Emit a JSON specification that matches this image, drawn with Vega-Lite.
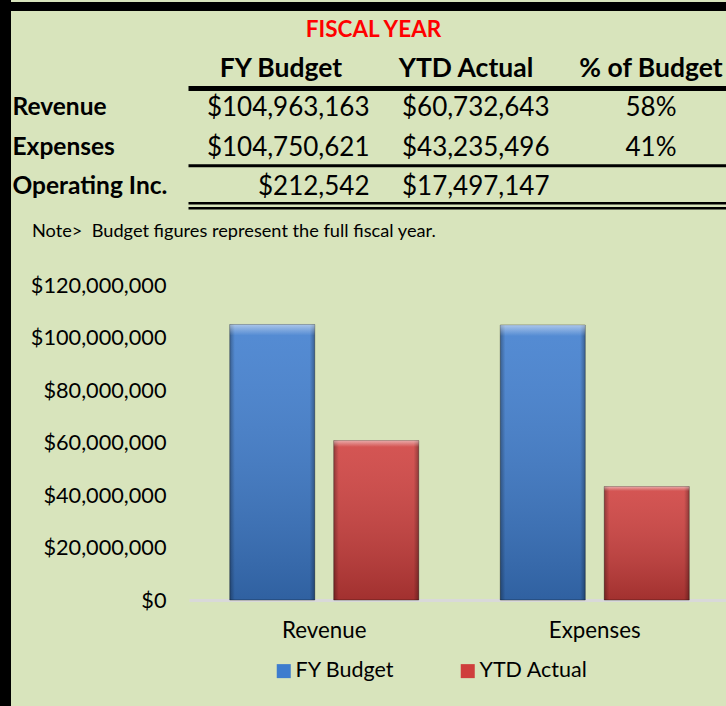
{
  "$schema": "https://vega.github.io/schema/vega-lite/v6.json",
  "width": 726,
  "height": 706,
  "autosize": "none",
  "padding": 0,
  "background": "#d8e4bc",
  "config": {
    "view": {"stroke": null},
    "font": "Lato",
    "text": {"font": "Lato", "color": "#000000"},
    "axis": {"labelFont": "Lato"},
    "legend": {"labelFont": "Lato"}
  },
  "datasets": {
    "finance": [
      {"item": "Revenue", "FY Budget": 104963163, "YTD Actual": 60732643, "pct": 0.58},
      {"item": "Expenses", "FY Budget": 104750621, "YTD Actual": 43235496, "pct": 0.41},
      {"item": "Operating Inc.", "FY Budget": 212542, "YTD Actual": 17497147, "pct": null}
    ],
    "headers": [{"col": "FY Budget"}, {"col": "YTD Actual"}, {"col": "% of Budget"}],
    "captions": [{"title": "FISCAL YEAR", "note": "Note>\u00a0 Budget figures represent the full fiscal year."}]
  },
  "layer": [
    {
      "layer": [
        {
          "data": {"name": "captions"},
          "mark": {"type": "text", "fontSize": 22.5, "fontWeight": "bold", "color": "#ff0000", "align": "center", "baseline": "middle", "dy": 4},
          "encoding": {
            "x": {"datum": "YTD Actual", "type": "nominal", "bandPosition": 0, "axis": null, "scale": {"type": "band", "domain": ["label", "FY Budget", "YTD Actual", "% of Budget"], "range": [3.5, 743.5], "paddingInner": 0, "paddingOuter": 0}},
            "y": {"datum": "title", "type": "nominal", "axis": null, "scale": {"type": "band", "domain": ["title", "header", "Revenue", "Expenses", "Operating Inc."], "range": [6.5, 204.25], "paddingInner": 0, "paddingOuter": 0}},
            "text": {"field": "title"}
          }
        },
        {
          "data": {"name": "headers"},
          "mark": {"type": "text", "fontSize": 26.5, "fontWeight": "bold", "align": "center", "baseline": "middle", "dy": 3},
          "encoding": {
            "x": {"field": "col", "type": "nominal", "axis": null, "scale": {"type": "band", "domain": ["label", "FY Budget", "YTD Actual", "% of Budget"], "range": [3.5, 743.5], "paddingInner": 0, "paddingOuter": 0}},
            "y": {"datum": "header", "type": "nominal", "axis": null, "scale": {"type": "band", "domain": ["title", "header", "Revenue", "Expenses", "Operating Inc."], "range": [6.5, 204.25], "paddingInner": 0, "paddingOuter": 0}},
            "text": {"field": "col"}
          }
        },
        {
          "data": {"name": "finance"},
          "mark": {"type": "text", "fontSize": 24.5, "fontWeight": "bold", "align": "left", "baseline": "middle", "dx": 9, "dy": 3},
          "encoding": {
            "x": {"datum": "label", "type": "nominal", "bandPosition": 0, "axis": null, "scale": {"type": "band", "domain": ["label", "FY Budget", "YTD Actual", "% of Budget"], "range": [3.5, 743.5], "paddingInner": 0, "paddingOuter": 0}},
            "y": {"field": "item", "type": "nominal", "axis": null, "scale": {"type": "band", "domain": ["title", "header", "Revenue", "Expenses", "Operating Inc."], "range": [6.5, 204.25], "paddingInner": 0, "paddingOuter": 0}},
            "text": {"field": "item"}
          }
        },
        {
          "data": {"name": "finance"},
          "mark": {"type": "text", "fontSize": 26, "align": "right", "baseline": "middle", "dx": -4, "dy": 3},
          "encoding": {
            "x": {"datum": "FY Budget", "type": "nominal", "bandPosition": 1, "axis": null, "scale": {"type": "band", "domain": ["label", "FY Budget", "YTD Actual", "% of Budget"], "range": [3.5, 743.5], "paddingInner": 0, "paddingOuter": 0}},
            "y": {"field": "item", "type": "nominal", "axis": null, "scale": {"type": "band", "domain": ["title", "header", "Revenue", "Expenses", "Operating Inc."], "range": [6.5, 204.25], "paddingInner": 0, "paddingOuter": 0}},
            "text": {"field": "FY Budget", "type": "quantitative", "format": "$,.0f"}
          }
        },
        {
          "data": {"name": "finance"},
          "mark": {"type": "text", "fontSize": 26, "align": "right", "baseline": "middle", "dx": -9, "dy": 3},
          "encoding": {
            "x": {"datum": "YTD Actual", "type": "nominal", "bandPosition": 1, "axis": null, "scale": {"type": "band", "domain": ["label", "FY Budget", "YTD Actual", "% of Budget"], "range": [3.5, 743.5], "paddingInner": 0, "paddingOuter": 0}},
            "y": {"field": "item", "type": "nominal", "axis": null, "scale": {"type": "band", "domain": ["title", "header", "Revenue", "Expenses", "Operating Inc."], "range": [6.5, 204.25], "paddingInner": 0, "paddingOuter": 0}},
            "text": {"field": "YTD Actual", "type": "quantitative", "format": "$,.0f"}
          }
        },
        {
          "data": {"name": "finance"},
          "transform": [{"filter": "isValid(datum.pct)"}],
          "mark": {"type": "text", "fontSize": 26, "align": "center", "baseline": "middle", "dy": 3},
          "encoding": {
            "x": {"datum": "% of Budget", "type": "nominal", "axis": null, "scale": {"type": "band", "domain": ["label", "FY Budget", "YTD Actual", "% of Budget"], "range": [3.5, 743.5], "paddingInner": 0, "paddingOuter": 0}},
            "y": {"field": "item", "type": "nominal", "axis": null, "scale": {"type": "band", "domain": ["title", "header", "Revenue", "Expenses", "Operating Inc."], "range": [6.5, 204.25], "paddingInner": 0, "paddingOuter": 0}},
            "text": {"field": "pct", "type": "quantitative", "format": ".0%"}
          }
        },
        {
          "data": {"name": "captions"},
          "mark": {"type": "text", "fontSize": 18.2, "align": "left", "baseline": "middle", "dx": 28.5, "dy": 28},
          "encoding": {
            "x": {"datum": "label", "type": "nominal", "bandPosition": 0, "axis": null, "scale": {"type": "band", "domain": ["label", "FY Budget", "YTD Actual", "% of Budget"], "range": [3.5, 743.5], "paddingInner": 0, "paddingOuter": 0}},
            "y": {"datum": "Operating Inc.", "type": "nominal", "bandPosition": 1, "axis": null, "scale": {"type": "band", "domain": ["title", "header", "Revenue", "Expenses", "Operating Inc."], "range": [6.5, 204.25], "paddingInner": 0, "paddingOuter": 0}},
            "text": {"field": "note"}
          }
        },
        {
          "data": {"name": "headers"},
          "transform": [{"filter": "datum.col == 'FY Budget'"}],
          "mark": {"type": "rule", "color": "#000000", "strokeWidth": 5, "yOffset": 3},
          "encoding": {
            "x": {"datum": "FY Budget", "type": "nominal", "bandPosition": 0, "axis": null, "scale": {"type": "band", "domain": ["label", "FY Budget", "YTD Actual", "% of Budget"], "range": [3.5, 743.5], "paddingInner": 0, "paddingOuter": 0}},
            "x2": {"datum": "% of Budget", "bandPosition": 1},
            "y": {"datum": "header", "type": "nominal", "bandPosition": 1, "axis": null, "scale": {"type": "band", "domain": ["title", "header", "Revenue", "Expenses", "Operating Inc."], "range": [6.5, 204.25], "paddingInner": 0, "paddingOuter": 0}}
          }
        },
        {
          "data": {"name": "headers"},
          "transform": [{"filter": "datum.col == 'FY Budget'"}],
          "mark": {"type": "rule", "color": "#000000", "strokeWidth": 3, "yOffset": 1},
          "encoding": {
            "x": {"datum": "FY Budget", "type": "nominal", "bandPosition": 0, "axis": null, "scale": {"type": "band", "domain": ["label", "FY Budget", "YTD Actual", "% of Budget"], "range": [3.5, 743.5], "paddingInner": 0, "paddingOuter": 0}},
            "x2": {"datum": "% of Budget", "bandPosition": 1},
            "y": {"datum": "Expenses", "type": "nominal", "bandPosition": 1, "axis": null, "scale": {"type": "band", "domain": ["title", "header", "Revenue", "Expenses", "Operating Inc."], "range": [6.5, 204.25], "paddingInner": 0, "paddingOuter": 0}}
          }
        },
        {
          "data": {"name": "headers"},
          "transform": [{"filter": "datum.col == 'FY Budget'"}],
          "mark": {"type": "rule", "color": "#000000", "strokeWidth": 2.5, "yOffset": -1},
          "encoding": {
            "x": {"datum": "FY Budget", "type": "nominal", "bandPosition": 0, "axis": null, "scale": {"type": "band", "domain": ["label", "FY Budget", "YTD Actual", "% of Budget"], "range": [3.5, 743.5], "paddingInner": 0, "paddingOuter": 0}},
            "x2": {"datum": "% of Budget", "bandPosition": 1},
            "y": {"datum": "Operating Inc.", "type": "nominal", "bandPosition": 1, "axis": null, "scale": {"type": "band", "domain": ["title", "header", "Revenue", "Expenses", "Operating Inc."], "range": [6.5, 204.25], "paddingInner": 0, "paddingOuter": 0}}
          }
        },
        {
          "data": {"name": "headers"},
          "transform": [{"filter": "datum.col == 'FY Budget'"}],
          "mark": {"type": "rule", "color": "#000000", "strokeWidth": 2.5, "yOffset": 4},
          "encoding": {
            "x": {"datum": "FY Budget", "type": "nominal", "bandPosition": 0, "axis": null, "scale": {"type": "band", "domain": ["label", "FY Budget", "YTD Actual", "% of Budget"], "range": [3.5, 743.5], "paddingInner": 0, "paddingOuter": 0}},
            "x2": {"datum": "% of Budget", "bandPosition": 1},
            "y": {"datum": "Operating Inc.", "type": "nominal", "bandPosition": 1, "axis": null, "scale": {"type": "band", "domain": ["title", "header", "Revenue", "Expenses", "Operating Inc."], "range": [6.5, 204.25], "paddingInner": 0, "paddingOuter": 0}}
          }
        },
        {
          "data": {"name": "headers"},
          "transform": [{"filter": "datum.col == 'FY Budget'"}],
          "mark": {"type": "rule", "color": "#000000", "strokeWidth": 15},
          "encoding": {
            "x": {"datum": "label", "type": "nominal", "bandPosition": 0, "axis": null, "scale": {"type": "band", "domain": ["label", "FY Budget", "YTD Actual", "% of Budget"], "range": [3.5, 743.5], "paddingInner": 0, "paddingOuter": 0}}
          }
        },
        {
          "data": {"name": "headers"},
          "transform": [{"filter": "datum.col == 'FY Budget'"}],
          "mark": {"type": "rule", "color": "#000000", "strokeWidth": 9},
          "encoding": {
            "y": {"datum": "title", "type": "nominal", "bandPosition": 0, "axis": null, "scale": {"type": "band", "domain": ["title", "header", "Revenue", "Expenses", "Operating Inc."], "range": [6.5, 204.25], "paddingInner": 0, "paddingOuter": 0}}
          }
        }
      ]
    },
    {
      "data": {"name": "finance"},
      "transform": [
        {"filter": "datum.item != 'Operating Inc.'"},
        {"fold": ["FY Budget", "YTD Actual"], "as": ["series", "amount"]}
      ],
      "encoding": {
        "x": {
          "field": "item", "type": "nominal",
          "scale": {"type": "band", "domain": ["Revenue", "Expenses"], "range": [189, 730], "paddingInner": 0, "paddingOuter": 0},
          "axis": {"title": null, "orient": "bottom", "offset": -106, "domainColor": "#d9d9d9", "domainWidth": 3, "ticks": false, "tickSize": 0, "labelFontSize": 22.3, "labelPadding": 19, "labelColor": "#000000", "labelAngle": 0}
        },
        "xOffset": {
          "field": "series", "type": "nominal",
          "scale": {"domain": ["FY Budget", "YTD Actual"], "paddingInner": 0.1827, "paddingOuter": 0.392}
        },
        "y": {
          "field": "amount", "type": "quantitative",
          "scale": {"domain": [0, 120000000], "range": [600, 285], "nice": false},
          "axis": {"title": null, "values": [0, 20000000, 40000000, 60000000, 80000000, 100000000, 120000000], "format": "$,.0f", "grid": false, "domain": false, "ticks": false, "tickSize": 0, "offset": -166, "labelPadding": 0, "labelFontSize": 21.7, "labelColor": "#000000"}
        }
      },
      "layer": [
        {
          "mark": {"type": "bar", "stroke": "#000000", "strokeOpacity": 0.35, "strokeWidth": 1},
          "encoding": {
            "color": {
              "field": "series", "type": "nominal",
              "scale": {"domain": ["FY Budget", "YTD Actual"], "range": ["#3d7cce", "#cf3e3c"]},
              "legend": {"orient": "none", "legendX": 273, "legendY": 660, "direction": "horizontal", "title": null, "symbolType": "square", "symbolSize": 196, "symbolStrokeWidth": 0, "symbolOpacity": 1, "labelFontSize": 21.5, "labelColor": "#000000", "labelOffset": 1, "columnPadding": 62, "padding": 0}
            }
          }
        },
        {
          "mark": {"type": "bar", "fill": {"gradient": "linear", "x1": 0, "y1": 0, "x2": 0, "y2": 1, "stops": [{"offset": 0, "color": "rgba(255,255,255,0.12)"}, {"offset": 1, "color": "rgba(0,0,0,0.22)"}]}}
        },
        {
          "mark": {"type": "bar", "fill": {"gradient": "linear", "x1": 0, "y1": 0, "x2": 1, "y2": 0, "stops": [{"offset": 0, "color": "rgba(0,0,0,0.3)"}, {"offset": 0.06, "color": "rgba(0,0,0,0)"}, {"offset": 0.94, "color": "rgba(0,0,0,0)"}, {"offset": 1, "color": "rgba(0,0,0,0.3)"}]}}
        },
        {
          "mark": {"type": "bar", "fill": {"gradient": "linear", "x1": 0, "y1": 0, "x2": 0, "y2": 1, "stops": [{"offset": 0, "color": "rgba(255,255,255,0.5)"}, {"offset": 0.025, "color": "rgba(255,255,255,0.18)"}, {"offset": 0.04, "color": "rgba(255,255,255,0)"}, {"offset": 1, "color": "rgba(255,255,255,0)"}]}}
        }
      ]
    }
  ],
  "resolve": {"scale": {"x": "independent", "y": "independent"}}
}
